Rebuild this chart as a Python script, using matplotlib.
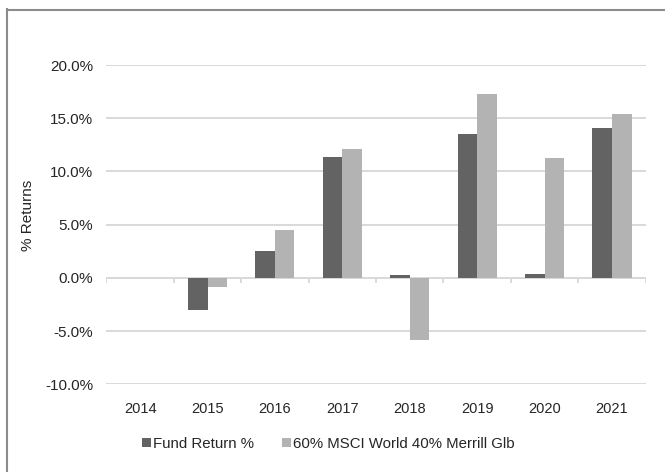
import numpy as np
import matplotlib
matplotlib.use("Agg")
import matplotlib.pyplot as plt
from matplotlib.lines import Line2D
from matplotlib.ticker import FuncFormatter

plt.rcParams.update({"font.family": ["Liberation Sans", "DejaVu Sans"], "font.size": 11})

years = ["2014", "2015", "2016", "2017", "2018", "2019", "2020", "2021"]
fund = [0.0, -3.0, 2.5, 11.4, 0.25, 13.5, 0.35, 14.1]
bench = [0.0, -0.9, 4.5, 12.1, -5.8, 17.3, 11.3, 15.4]
series_names = ["Fund Return %", "60% MSCI World 40% Merrill Glb"]

DARK, LIGHT, GRID, TXT = "#636363", "#b3b3b3", "#d9d9d9", "#262626"

fig = plt.figure(figsize=(6.65, 4.72), dpi=100)
ax = fig.add_axes([0.160, 0.186, 0.811, 0.676])

x = np.arange(len(years))
w = 0.29
b1 = ax.bar(x - w / 2, fund, w, color=DARK, label=series_names[0], zorder=3)
b2 = ax.bar(x + w / 2, bench, w, color=LIGHT, label=series_names[1], zorder=3)

ax.set_xlim(-0.5, len(years) - 0.5)
ax.set_ylim(-10, 20)
ax.set_yticks(np.arange(-10, 21, 5))
ax.yaxis.set_major_formatter(FuncFormatter(lambda v, _: f"{v:.1f}%"))
ax.grid(axis="y", color=GRID, linewidth=1.4, zorder=0)
ax.set_xticks(x)
ax.set_xticklabels(years)
ax.tick_params(length=0, colors=TXT)
ax.tick_params(axis="x", pad=12.5, labelsize=10.5)
ax.tick_params(axis="y", pad=9.5, labelsize=11)
for s in ax.spines.values():
    s.set_visible(False)

# zero line + category separators
ax.axhline(0, color=GRID, linewidth=1.4, zorder=2)
bounds = np.arange(len(years) + 1) - 0.5
ax.vlines(bounds, -0.45, 0, color=GRID, linewidth=1.4, zorder=2)

fig.text(28 / 665, 1 - 215 / 472, "% Returns", rotation=90, ha="center",
         va="center", color=TXT, fontsize=11)

fig.legend(handles=[b1, b2], loc="center", bbox_to_anchor=(328 / 665, 1 - 444 / 472),
           ncol=2, frameon=False, handlelength=0.6, handleheight=0.6,
           handletextpad=0.15, columnspacing=1.85, labelcolor=TXT, fontsize=10.8)

# outer border (only left/top visible in the crop)
fig.add_artist(Line2D([7 / 665, 7 / 665], [0, 1 - 9 / 472], transform=fig.transFigure,
                      color="#8c8c8c", linewidth=1.5))
fig.add_artist(Line2D([7 / 665, 1], [1 - 10 / 472, 1 - 10 / 472], transform=fig.transFigure,
                      color="#8c8c8c", linewidth=1.5))

fig.savefig("out.png", dpi=100)
